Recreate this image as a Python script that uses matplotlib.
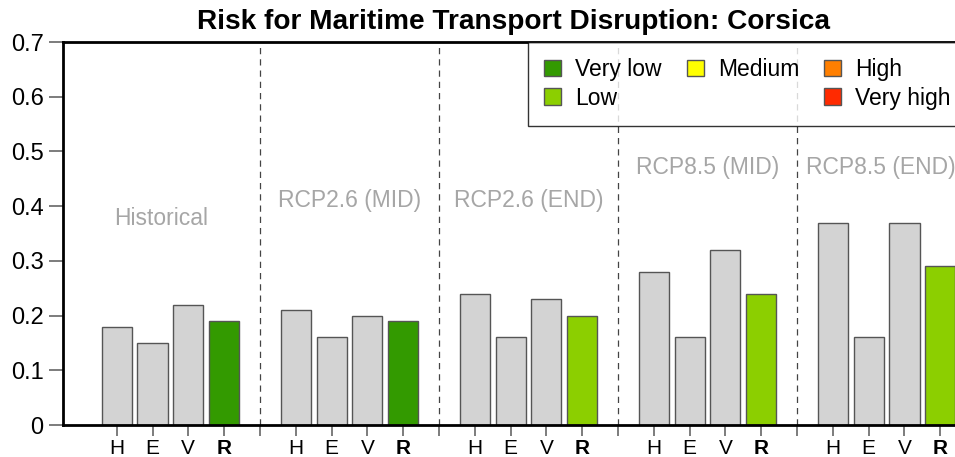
import matplotlib
matplotlib.use("Agg")
import matplotlib.pyplot as plt
from matplotlib.patches import Patch

plt.rcParams['font.family'] = ['Liberation Sans', 'DejaVu Sans']

# data
periods = ["Historical", "RCP2.6 (MID)", "RCP2.6 (END)", "RCP8.5 (MID)", "RCP8.5 (END)"]
components = ["H", "E", "V", "R"]
hazard = [0.18, 0.21, 0.24, 0.28, 0.37]
exposure = [0.15, 0.16, 0.16, 0.16, 0.16]
vulnerability = [0.22, 0.20, 0.23, 0.32, 0.37]
risk = [0.19, 0.19, 0.20, 0.24, 0.29]
risk_class = ["Very low", "Very low", "Low", "Low", "Low"]

classes = ["Very low", "Low", "Medium", "High", "Very high"]
class_colors = {"Very low": "#339a00", "Low": "#8ccf00", "Medium": "#ffff00",
                "High": "#ff7f00", "Very high": "#ff2a00"}
label_y = [0.378, 0.411, 0.411, 0.470, 0.470]

fig = plt.figure(figsize=(9.55, 4.57), dpi=100)
ax = fig.add_axes([63 / 955, 32 / 457, 931 / 955, 383 / 457])

slot = 5  # H, E, V, R + separator
edge = "#555555"
for g, name in enumerate(periods):
    x0 = g * slot
    vals = [hazard[g], exposure[g], vulnerability[g]]
    ax.bar([x0, x0 + 1, x0 + 2], vals, width=0.84, color="#d3d3d3",
           edgecolor=edge, linewidth=1)
    ax.bar([x0 + 3], [risk[g]], width=0.84, color=class_colors[risk_class[g]],
           edgecolor=edge, linewidth=1)
    if g < len(periods) - 1:
        ax.axvline(x0 + 4, color="#444444", linestyle=(0, (5, 4)), linewidth=0.9)
    ax.text(x0 + 1.25 if g == 0 else x0 + 1.35 if g == 4 else x0 + 1.5, label_y[g], name,
            ha="center", va="center", fontsize=16.5, color="#a6a6a6")

ticks, labels = [], []
for g in range(len(periods)):
    for i, c in enumerate(components + [""]):
        ticks.append(g * slot + i)
        labels.append(c)
ax.set_xticks(ticks[:-1])
ax.set_xticklabels(labels[:-1], fontsize=15)
for lab in ax.get_xticklabels():
    if lab.get_text() == "R":
        lab.set_fontweight("bold")

ax.set_xlim(-1.5, 24.5)
ax.set_ylim(0, 0.7)
ax.set_yticks([0, 0.1, 0.2, 0.3, 0.4, 0.5, 0.6, 0.7])
ax.set_yticklabels(["0", "0.1", "0.2", "0.3", "0.4", "0.5", "0.6", "0.7"], fontsize=17)
ax.tick_params(axis="y", direction="out", length=10, width=1.2, color="#666666", pad=4)
ax.tick_params(axis="x", direction="out", length=8, width=1.2, color="#666666", pad=2)
for s in ["left", "bottom", "top"]:
    ax.spines[s].set_linewidth(2)
ax.spines["right"].set_visible(False)

handles = [Patch(facecolor=class_colors[c], edgecolor=edge, label=c) for c in classes]
blank = Patch(facecolor="none", edgecolor="none", label="")
handles = handles[:3] + [blank] + handles[3:]
leg = ax.legend(handles=handles, ncol=3, loc="upper left",
                bbox_to_anchor=((528 - 63) / 931, 1.0), borderaxespad=0,
                fontsize=16.5, frameon=True, fancybox=False, edgecolor="black",
                handlelength=0.75, handleheight=0.75, handletextpad=0.6,
                columnspacing=1.1, labelspacing=0.25, borderpad=0.7)
leg.get_frame().set_linewidth(1)

fig.text(513 / 955, 1 - 22 / 457, "Risk for Maritime Transport Disruption: Corsica",
         ha="center", va="center", fontsize=20.2, fontweight="bold")

fig.savefig("out.png", dpi=100)
